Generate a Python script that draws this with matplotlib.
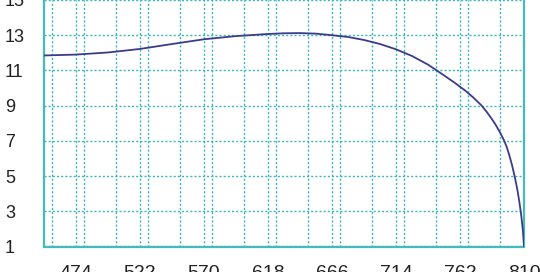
import matplotlib
matplotlib.use("Agg")
import matplotlib.pyplot as plt
from matplotlib.ticker import MultipleLocator, FixedLocator

x_vals = [450, 474, 498, 522, 546, 570, 594, 618, 630, 642, 654, 666, 678, 690, 702,
          714, 726, 738, 750, 758, 766, 772, 778, 782, 786, 789, 792, 795, 797, 799,
          801, 803, 805, 806.5, 808, 809, 809.6, 810]
y_vals = [11.85, 11.9, 12.02, 12.22, 12.5, 12.77, 12.95, 13.07, 13.11, 13.12, 13.09,
          13.0, 12.9, 12.73, 12.5, 12.2, 11.82, 11.33, 10.72, 10.3, 9.85, 9.46, 9.02,
          8.65, 8.23, 7.88, 7.48, 7.03, 6.66, 6.18, 5.63, 4.98, 4.24, 3.54, 2.72,
          2.02, 1.5, 1.0]
x_ticks = [474, 522, 570, 618, 666, 714, 762, 810]
y_ticks = [1, 3, 5, 7, 9, 11, 13, 15]

teal = "#46b9bb"
grid_c = "#3cb6b6"
line_c = "#3b3b8e"

plt.rcParams['font.family'] = ['Liberation Sans', 'DejaVu Sans']
fig = plt.figure(figsize=(5.4, 2.72), dpi=100)
ax = fig.add_axes([44/540, 25.5/272, 480/540, 246.5/272])

ax.plot(x_vals, y_vals, color=line_c, lw=1.3, zorder=3, solid_joinstyle='round')
ax.set_xlim(450, 810)
ax.set_ylim(1, 15)

ax.xaxis.set_major_locator(FixedLocator(x_ticks))
ax.xaxis.set_minor_locator(MultipleLocator(24))
ax.yaxis.set_major_locator(FixedLocator(y_ticks))

ax.grid(which='both', axis='x', color=grid_c, ls=(0, (1.5, 1.5)), lw=1.0)
ax.grid(which='major', axis='y', color=grid_c, ls=(0, (1.5, 1.5)), lw=1.0)

for s in ['left', 'bottom', 'right']:
    ax.spines[s].set_color(teal)
    ax.spines[s].set_linewidth(1.6)
ax.spines['top'].set_visible(False)

ax.tick_params(axis='both', which='both', length=0, colors='#222222')
ax.tick_params(axis='y', pad=28, labelsize=13)
ax.tick_params(axis='x', pad=13.5, labelsize=14)
for lab in ax.get_yticklabels():
    lab.set_horizontalalignment('left')

fig.savefig("out.png", dpi=100)
